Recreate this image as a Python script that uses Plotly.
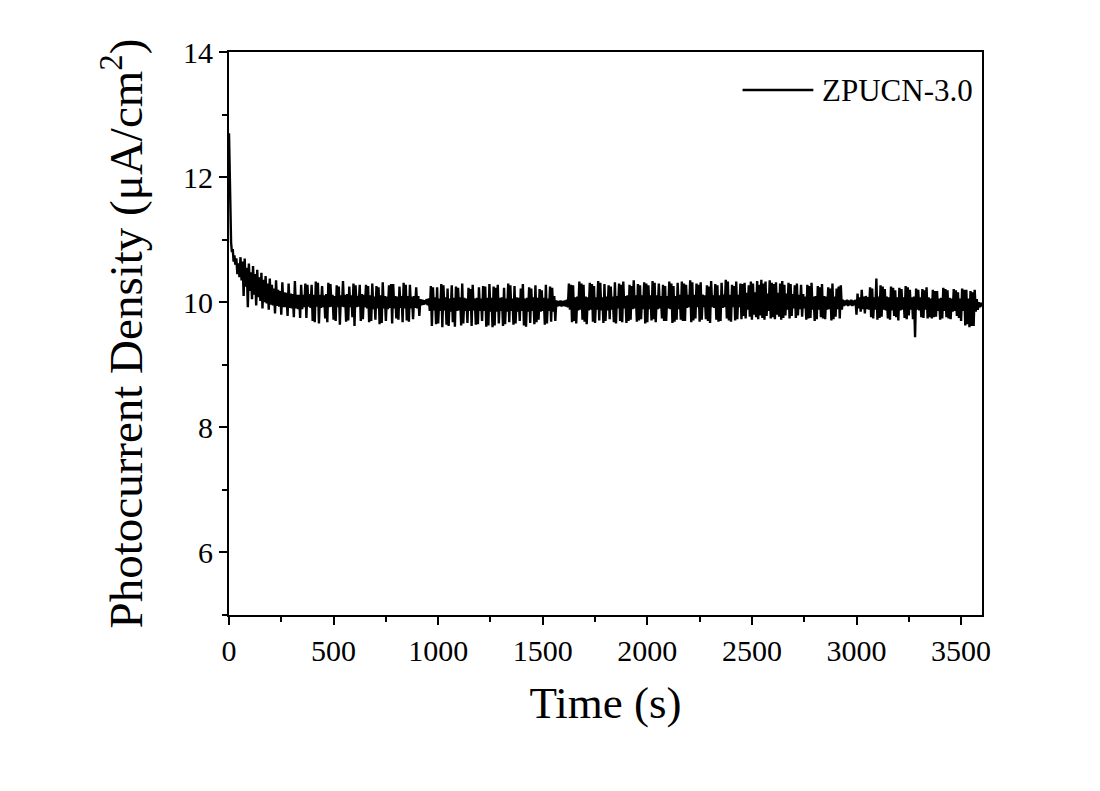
import plotly.graph_objects as go

# Initial decay (time in s, photocurrent in uA/cm2)
t_early = [0, 2, 4, 6, 8, 10, 14, 18, 22, 26, 30, 35, 40, 45, 50]
y_early = [12.7, 12.2, 11.6, 11.3, 11.1, 10.95, 10.8, 10.85, 10.65, 10.75, 10.6, 10.7, 10.45, 10.62, 10.4]

# Main record from 55 s, one reading every 5 s.
# Readings come in pairs: the upper reading (hi) then the lower reading (lo), 10 s per pair.
main_start = 55
main_step = 5

hi_a = [10.72, 10.65, 10.70, 10.55, 10.62, 10.48, 10.58, 10.45, 10.52, 10.40,
        10.47, 10.36, 10.42, 10.30, 10.38, 10.28, 10.22, 10.35, 10.20, 10.18,
        10.32, 10.16, 10.15, 10.30, 10.14, 10.13, 10.34, 10.12, 10.12, 10.28]
lo_a = [10.35, 10.10, 10.25, 9.92, 10.18, 10.05, 10.12, 9.95, 10.08, 10.02,
        9.90, 10.00, 9.98, 9.88, 9.96, 9.95, 9.82, 9.94, 9.93, 9.80,
        9.92, 9.92, 9.78, 9.91, 9.90, 9.76, 9.90, 9.89, 9.75, 9.89]
hi_b = [10.12, 10.30, 10.28, 10.13, 10.28, 10.12, 10.33, 10.31, 10.12, 10.26,
        10.11, 10.13, 10.31, 10.29, 10.12, 10.10, 10.27, 10.25, 10.11, 10.34,
        10.12, 10.13, 10.25, 10.11, 10.30, 10.27, 10.10, 10.28, 10.13, 10.12]
lo_b = [9.92, 9.75, 9.93, 9.91, 9.70, 9.68, 9.93, 9.66, 9.91, 9.92,
        9.74, 9.68, 9.92, 9.93, 9.72, 9.70, 9.92, 9.64, 9.93, 9.92,
        9.69, 9.71, 9.92, 9.76, 9.62, 9.92, 9.93, 9.70, 9.73, 9.92]
hi_c = [10.28, 10.26, 10.11, 10.30, 10.09, 10.26, 10.24, 10.11, 10.32, 10.10,
        10.09, 10.27, 10.29, 10.29, 10.10, 10.09, 10.25, 10.10, 10.31, 10.28,
        10.10, 10.28, 10.09, 10.10, 10.24, 10.10, 10.05, 10.04, 10.03, 10.05]
lo_c = [9.90, 9.68, 9.70, 9.89, 9.72, 9.90, 9.65, 9.67, 9.90, 9.70,
        9.89, 9.91, 9.66, 9.90, 9.74, 9.72, 9.91, 9.68, 9.90, 9.71,
        9.69, 9.90, 9.73, 9.91, 9.90, 9.78, 9.95, 9.96, 9.97, 9.95]
hi_d = [10.06, 10.26, 10.24, 10.08, 10.24, 10.06, 10.29, 10.27, 10.08, 10.22,
        10.06, 10.27, 10.07, 10.25, 10.23, 10.08, 10.30, 10.07, 10.06, 10.23,
        10.21, 10.28, 10.06, 10.07, 10.24, 10.06, 10.26, 10.25, 10.07, 10.29]
lo_d = [9.86, 9.62, 9.87, 9.65, 9.66, 9.86, 9.60, 9.87, 9.64, 9.62,
        9.85, 9.68, 9.61, 9.86, 9.87, 9.63, 9.66, 9.86, 9.67, 9.86,
        9.62, 9.87, 9.64, 9.65, 9.86, 9.70, 9.86, 9.61, 9.63, 9.85]
hi_e = [10.07, 10.25, 10.23, 10.28, 10.07, 10.08, 10.23, 10.06, 10.30, 10.27,
        10.06, 10.26, 10.08, 10.07, 10.22, 10.29, 10.06, 10.07, 10.24, 10.22,
        10.08, 10.27, 10.07, 10.21, 10.19, 10.07, 10.28, 10.06, 10.25, 10.23]
lo_e = [9.60, 9.63, 9.85, 9.66, 9.86, 9.62, 9.65, 9.85, 9.68, 9.86,
        9.64, 9.66, 9.85, 9.70, 9.86, 9.63, 9.61, 9.85, 9.67, 9.86,
        9.65, 9.68, 9.72, 9.85, 9.86, 9.64, 9.66, 9.86, 9.69, 9.85]
hi_f = [10.10, 10.03, 10.02, 10.03, 10.02, 10.03, 10.04, 10.30, 10.28, 10.27,
        10.08, 10.09, 10.33, 10.30, 10.28, 10.09, 10.08, 10.31, 10.29, 10.26,
        10.08, 10.34, 10.31, 10.08, 10.29, 10.09, 10.27, 10.25, 10.09, 10.32]
lo_f = [9.70, 9.93, 9.94, 9.93, 9.94, 9.93, 9.92, 9.88, 9.68, 9.70,
        9.66, 9.87, 9.88, 9.72, 9.69, 9.65, 9.87, 9.88, 9.69, 9.67,
        9.88, 9.71, 9.87, 9.67, 9.70, 9.87, 9.73, 9.88, 9.68, 9.66]
hi_g = [10.10, 10.30, 10.28, 10.33, 10.10, 10.11, 10.28, 10.26, 10.35, 10.11,
        10.29, 10.27, 10.11, 10.32, 10.30, 10.27, 10.11, 10.34, 10.31, 10.11,
        10.30, 10.10, 10.28, 10.26, 10.10, 10.33, 10.30, 10.26, 10.10, 10.31]
lo_g = [9.90, 9.70, 9.68, 9.90, 9.67, 9.70, 9.72, 9.89, 9.90, 9.69,
        9.71, 9.73, 9.89, 9.66, 9.68, 9.89, 9.71, 9.73, 9.68, 9.89,
        9.90, 9.74, 9.70, 9.70, 9.90, 9.89, 9.67, 9.69, 9.72, 9.89]
hi_h = [10.12, 10.33, 10.30, 10.28, 10.12, 10.35, 10.32, 10.12, 10.30, 10.28,
        10.32, 10.12, 10.11, 10.27, 10.25, 10.34, 10.11, 10.29, 10.27, 10.11,
        10.31, 10.12, 10.36, 10.33, 10.12, 10.28, 10.26, 10.33, 10.12, 10.30]
lo_h = [9.72, 9.70, 9.70, 9.91, 9.92, 9.68, 9.71, 9.74, 9.92, 9.69,
        9.72, 9.92, 9.73, 9.70, 9.67, 9.92, 9.91, 9.72, 9.69, 9.70,
        9.91, 9.92, 9.74, 9.71, 9.69, 9.92, 9.71, 9.73, 9.92, 9.73]
hi_i = [10.29, 10.31, 10.15, 10.27, 10.33, 10.30, 10.16, 10.34, 10.28, 10.36,
        10.30, 10.33, 10.14, 10.35, 10.31, 10.29, 10.32, 10.15, 10.30, 10.34,
        10.28, 10.14, 10.31, 10.29, 10.13, 10.27, 10.30, 10.12, 10.28, 10.13]
lo_i = [9.78, 9.74, 9.88, 9.77, 9.72, 9.80, 9.76, 9.73, 9.79, 9.75,
        9.72, 9.78, 9.86, 9.74, 9.76, 9.73, 9.80, 9.77, 9.72, 9.75,
        9.79, 9.88, 9.74, 9.78, 9.90, 9.75, 9.79, 9.89, 9.77, 9.90]
hi_j = [10.09, 10.28, 10.26, 10.31, 10.09, 10.10, 10.26, 10.24, 10.29, 10.10,
        10.09, 10.24, 10.22, 10.30, 10.09, 10.22, 10.25, 10.27, 10.04, 10.03,
        10.04, 10.03, 10.04, 10.03, 10.04, 10.14, 10.08, 10.20, 10.09, 10.10]
lo_j = [9.72, 9.74, 9.75, 9.88, 9.70, 9.73, 9.88, 9.76, 9.74, 9.73,
        9.88, 9.89, 9.71, 9.73, 9.77, 9.89, 9.74, 9.88, 9.94, 9.95,
        9.94, 9.95, 9.94, 9.95, 9.80, 9.90, 9.85, 9.89, 9.82, 9.89]
hi_k = [10.08, 10.24, 10.22, 10.08, 10.38, 10.09, 10.27, 10.25, 10.21, 10.09,
        10.08, 10.25, 10.23, 10.19, 10.08, 10.23, 10.21, 10.08, 10.26, 10.24,
        10.20, 10.08, 10.09, 10.22, 10.20, 10.08, 10.21, 10.19, 10.24, 10.08]
lo_k = [9.88, 9.76, 9.74, 9.88, 9.72, 9.75, 9.77, 9.88, 9.87, 9.74,
        9.72, 9.87, 9.78, 9.76, 9.71, 9.87, 9.88, 9.75, 9.73, 9.79,
        9.88, 9.73, 9.44, 9.88, 9.87, 9.76, 9.75, 9.88, 9.74, 9.76]
hi_l = [10.06, 10.20, 10.18, 10.18, 10.06, 10.07, 10.23, 10.21, 10.19, 10.07,
        10.06, 10.21, 10.19, 10.16, 10.06, 10.22, 10.20, 10.20, 10.06, 10.18,
        10.16, 10.20, 10.05, 10.00, 9.99]
lo_l = [9.74, 9.76, 9.77, 9.86, 9.72, 9.74, 9.86, 9.76, 9.74, 9.73,
        9.85, 9.86, 9.78, 9.75, 9.70, 9.86, 9.63, 9.65, 9.60, 9.62,
        9.62, 9.85, 9.88, 9.92, 9.93]

series_name = "ZPUCN-3.0"
x_title = "Time (s)"
y_title = "Photocurrent Density (μA/cm<sup>2</sup>)"
x_ticks = [0, 500, 1000, 1500, 2000, 2500, 3000, 3500]
y_ticks = [6, 8, 10, 12, 14]

hi_all = hi_a + hi_b + hi_c + hi_d + hi_e + hi_f + hi_g + hi_h + hi_i + hi_j + hi_k + hi_l
lo_all = lo_a + lo_b + lo_c + lo_d + lo_e + lo_f + lo_g + lo_h + lo_i + lo_j + lo_k + lo_l
y_main = [v for pair in zip(hi_all, lo_all) for v in pair]
t_main = [main_start + main_step * k for k in range(len(y_main))]
t_all = t_early + t_main
y_all = y_early + y_main

FONT = "Liberation Serif, Times New Roman, serif"

fig = go.Figure()
fig.add_trace(go.Scatter(x=t_all, y=y_all, mode="lines",
                         line=dict(color="black", width=2.4),
                         name=series_name, showlegend=False))

axis_common = dict(
    showline=True, linecolor="black", linewidth=2, mirror=True,
    ticks="outside", ticklen=8, tickwidth=2, tickcolor="black",
    showgrid=False, zeroline=False,
    tickfont=dict(family=FONT, size=30, color="black"),
)

fig.update_xaxes(range=[0, 3600], tickvals=x_ticks,
                 minor=dict(ticks="outside", ticklen=5, tickwidth=2, tickcolor="black", dtick=250, tick0=0),
                 title=dict(text=x_title, font=dict(family=FONT, size=45, color="black"), standoff=20),
                 **axis_common)
fig.update_yaxes(range=[5, 14], tickvals=y_ticks,
                 minor=dict(ticks="outside", ticklen=5, tickwidth=2, tickcolor="black", dtick=1, tick0=5),
                 title=dict(text=y_title, font=dict(family=FONT, size=47, color="black"), standoff=26),
                 **axis_common)

# legend drawn as a line sample + text
fig.add_shape(type="line", xref="paper", yref="paper", x0=0.682, x1=0.776, y0=0.9325, y1=0.9325,
              line=dict(color="black", width=2.4))
fig.add_annotation(text=series_name, xref="paper", yref="paper", x=0.785, y=0.9325,
                   xanchor="left", yanchor="middle", showarrow=False,
                   font=dict(family=FONT, size=31, color="black"))

fig.update_layout(width=1100, height=791, paper_bgcolor="white", plot_bgcolor="white",
                  margin=dict(l=221, r=126, t=44, b=184))

fig.write_html("out.html")
